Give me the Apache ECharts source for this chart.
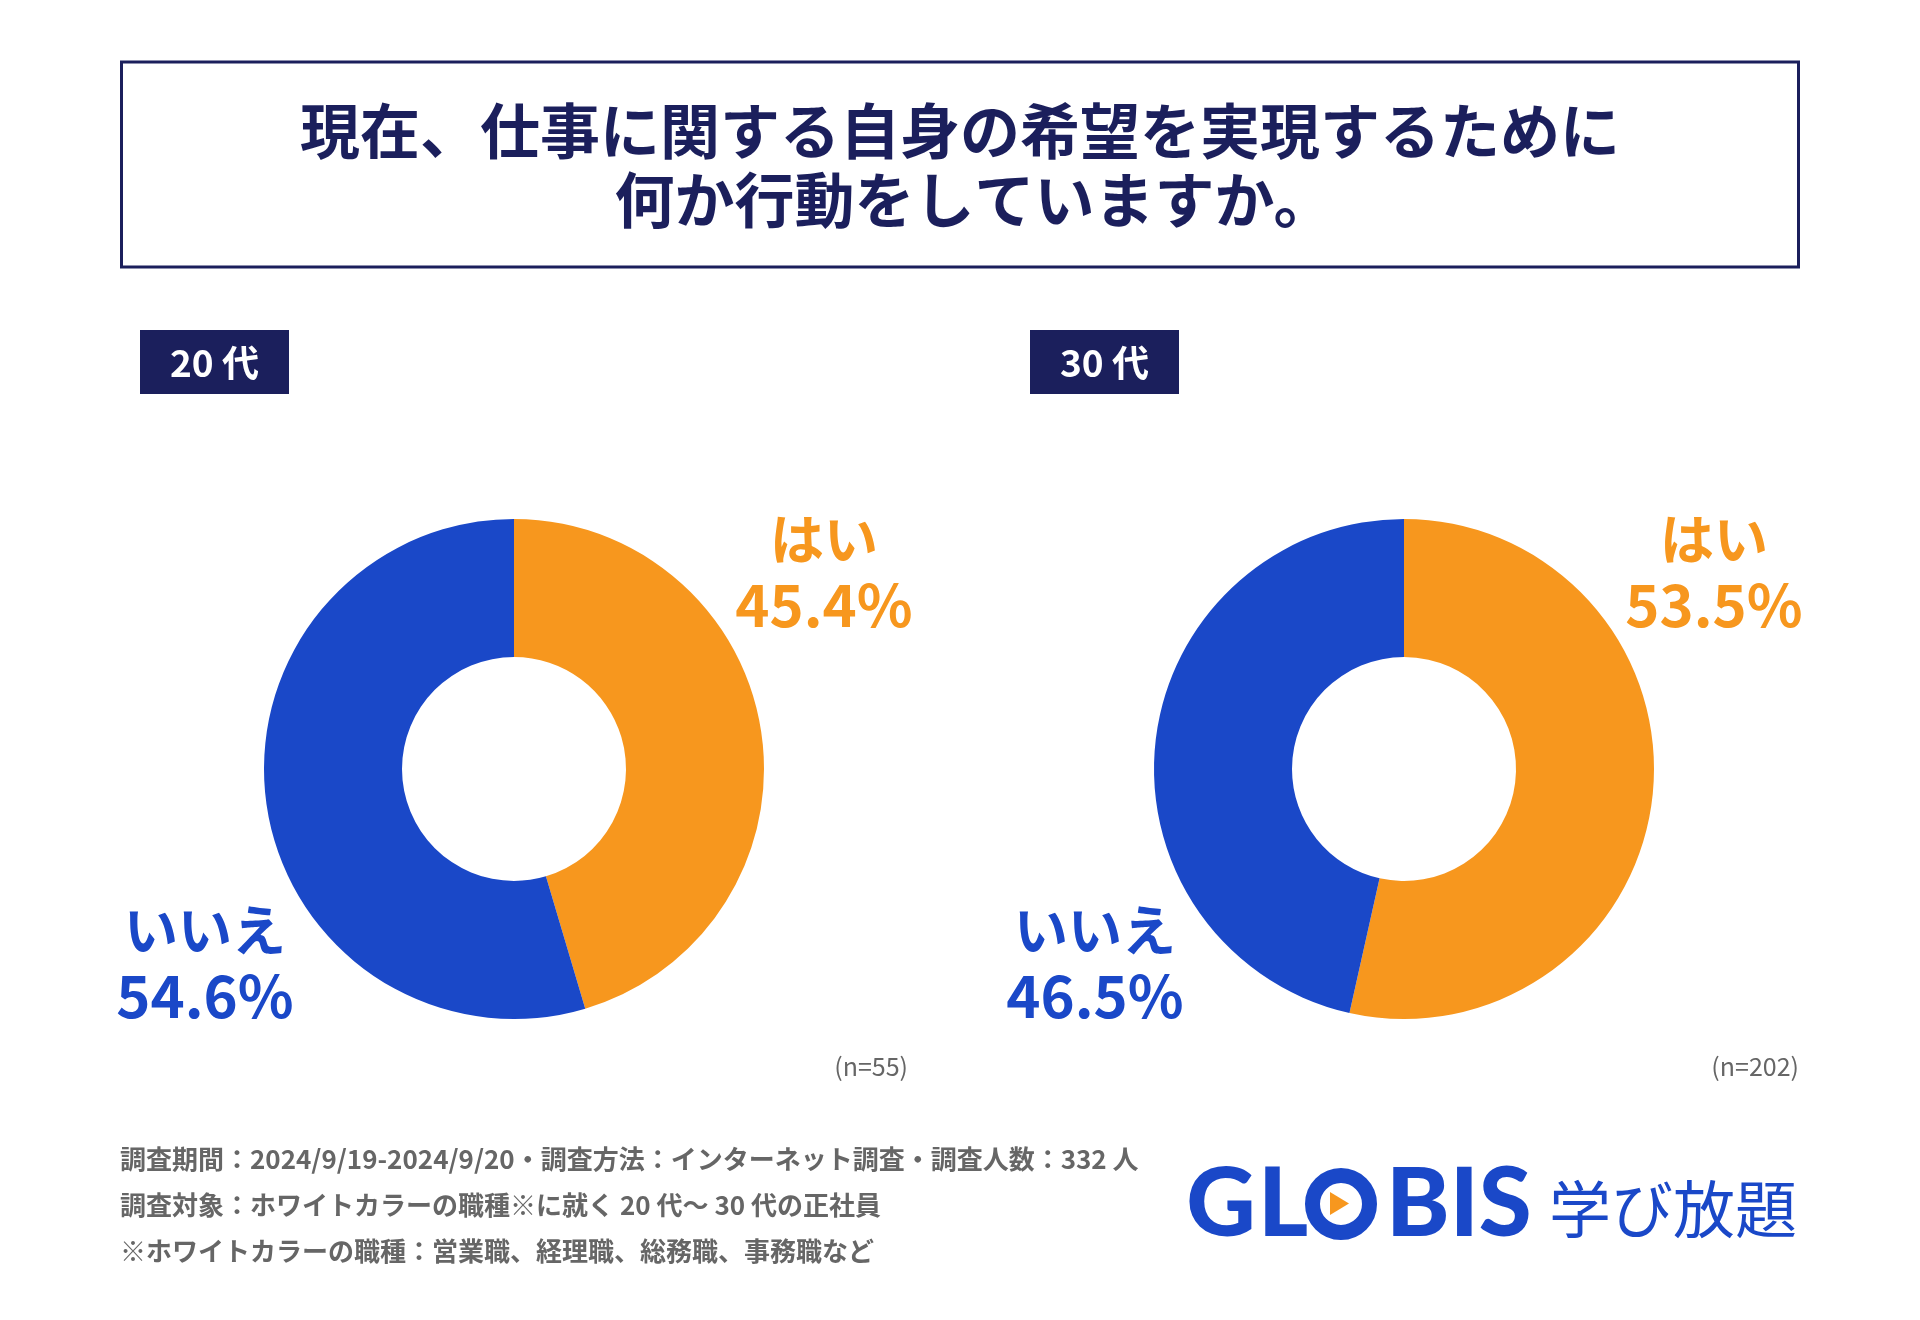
<!DOCTYPE html>
<html style="height: 100%">
<head>
    <meta charset="utf-8">
</head>
<body style="height: 100%; margin: 0; background: #fff">
<div id="container" style="width: 1920px; height: 1320px"></div>
<script type="text/javascript" src="https://cdn.jsdelivr.net/npm/echarts@6/dist/echarts.min.js"></script>
<script type="text/javascript">
    // データ
    var answers = ['はい', 'いいえ'];
    var groups = ['20 代', '30 代'];
    var values20 = [45.4, 54.6];
    var values30 = [53.5, 46.5];
    var sampleSizes = [55, 202];
    var titleLines = ['現在、仕事に関する自身の希望を実現するために', '何か行動をしていますか。'];
    var notes = [
        '調査期間：2024/9/19-2024/9/20・調査方法：インターネット調査・調査人数：332 人',
        '調査対象：ホワイトカラーの職種※に就く 20 代～ 30 代の正社員',
        '※ホワイトカラーの職種：営業職、経理職、総務職、事務職など'
    ];

    var NAVY = '#1b1f5c';
    var ORANGE = '#f7971e';
    var BLUE = '#1a48c8';
    var FONT = '"Noto Sans CJK JP", "Noto Sans", sans-serif';
    var LOGO_FONT = '900 96px Lato, sans-serif';

    var dom = document.getElementById("container");
    var myChart = echarts.init(dom);

    var centers = [[514, 769], [1404, 769]];
    // ラベル位置（円の中心からのずれ）
    var labelOffsets = [[310, -197], [-309, 194]];

    function pieSeries(idx, vals) {
        return {
            type: 'pie',
            center: centers[idx],
            radius: [112, 250],
            startAngle: 90,
            clockwise: true,
            silent: true,
            label: {
                show: true,
                position: 'outside',
                formatter: function (p) {
                    return '{n|' + p.name + '}\n{v|' + p.value.toFixed(1) + '%}';
                },
                rich: {
                    n: { fontSize: 54, fontWeight: 'bold', fontFamily: FONT, lineHeight: 66 },
                    v: { fontSize: 58, fontWeight: 'bold', fontFamily: FONT, lineHeight: 66 }
                }
            },
            labelLine: { show: false },
            labelLayout: function (params) {
                var off = labelOffsets[params.dataIndex];
                return {
                    x: centers[idx][0] + off[0],
                    y: centers[idx][1] + off[1],
                    align: 'center',
                    verticalAlign: 'middle'
                };
            },
            data: answers.map(function (a, i) {
                var c = i === 0 ? ORANGE : BLUE;
                return {
                    name: a,
                    value: vals[i],
                    itemStyle: { color: c },
                    label: { color: c, rich: { n: { color: c }, v: { color: c } } }
                };
            })
        };
    }

    var graphics = [
        {
            type: 'rect',
            shape: { x: 121.5, y: 62, width: 1677, height: 205 },
            style: { fill: '#fff', stroke: NAVY, lineWidth: 3 }
        }
    ];
    titleLines.forEach(function (t, i) {
        graphics.push({
            type: 'text', x: i === 0 ? 960 : 974, y: 131 + i * 69,
            style: {
                text: t, fill: NAVY, font: 'bold 60px ' + FONT,
                align: 'center', verticalAlign: 'middle'
            }
        });
    });
    groups.forEach(function (g, i) {
        var bx = [140, 1030][i];
        graphics.push({
            type: 'rect',
            shape: { x: bx, y: 330, width: 149, height: 64 },
            style: { fill: NAVY }
        });
        graphics.push({
            type: 'text', x: bx + 74.5, y: 363,
            style: {
                text: g, fill: '#fff', font: 'bold 37px ' + FONT,
                align: 'center', verticalAlign: 'middle'
            }
        });
        graphics.push({
            type: 'text', x: [908, 1799][i], y: 1066,
            style: {
                text: '(n=' + sampleSizes[i] + ')', fill: '#666', font: '25px ' + FONT,
                align: 'right', verticalAlign: 'middle'
            }
        });
    });
    notes.forEach(function (n, i) {
        graphics.push({
            type: 'text', x: 120, y: 1159 + i * 46,
            style: {
                text: n, fill: '#666', font: 'bold 26px ' + FONT,
                align: 'left', verticalAlign: 'middle'
            }
        });
    });
    // ロゴ
    graphics.push({
        type: 'text', x: 1221, y: 1205,
        style: { text: 'G', fill: BLUE, font: LOGO_FONT, align: 'center', verticalAlign: 'middle' }
    });
    graphics.push({
        type: 'text', x: 1258, y: 1205,
        style: { text: 'L', fill: BLUE, font: LOGO_FONT, align: 'left', verticalAlign: 'middle' }
    });
    graphics.push({
        type: 'circle', shape: { cx: 1341, cy: 1204, r: 28.5 },
        style: { fill: 'none', stroke: BLUE, lineWidth: 15 }
    });
    graphics.push({
        type: 'polygon', shape: { points: [[1330, 1192], [1330, 1215], [1349, 1203.5]] },
        style: { fill: ORANGE }
    });
    graphics.push({
        type: 'text', x: 1386, y: 1205,
        style: { text: 'BIS', fill: BLUE, font: LOGO_FONT, align: 'left', verticalAlign: 'middle' }
    });
    graphics.push({
        type: 'text', x: 1549, y: 1209,
        style: { text: '学び放題', fill: BLUE, font: '62px ' + FONT, align: 'left', verticalAlign: 'middle' }
    });

    var option = {
        backgroundColor: '#fff',
        animation: false,
        graphic: graphics,
        series: [pieSeries(0, values20), pieSeries(1, values30)]
    };
    myChart.setOption(option, true);
</script>
</body>
</html>
